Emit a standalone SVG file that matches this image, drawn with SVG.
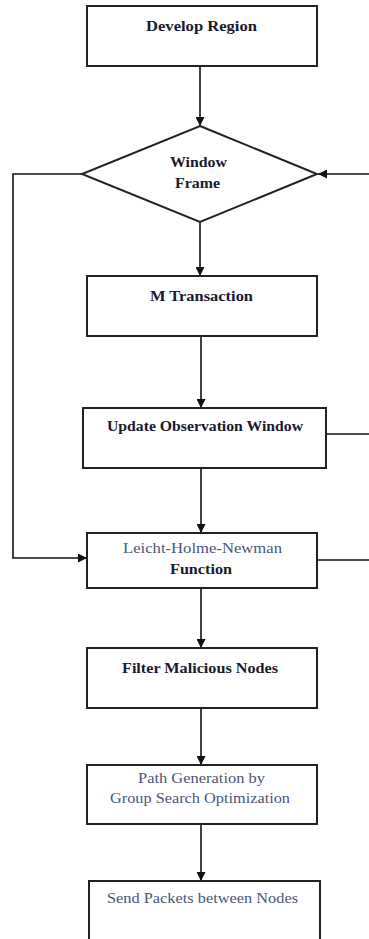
<svg xmlns="http://www.w3.org/2000/svg" width="369" height="939" viewBox="0 0 369 939">
<style>
.box{fill:#fff;stroke:#222;stroke-width:2}
.ln{fill:none;stroke:#111;stroke-width:1.6}
.b{font-family:"Liberation Serif","Times New Roman",serif;font-weight:bold;font-size:14px;fill:#1a1a2e}
.n{font-family:"Liberation Serif","Times New Roman",serif;font-size:14px;fill:#4a5676}
</style>
<defs>
<marker id="ah" markerWidth="9" markerHeight="9" refX="9" refY="4.5" orient="auto" markerUnits="userSpaceOnUse">
<path d="M0,0 L9,4.5 L0,9 Z" fill="#111"/>
</marker>
</defs>
<rect width="369" height="939" fill="#fff"/>
<g id="connectors">
<line class="ln" x1="200" y1="66" x2="200" y2="126" marker-end="url(#ah)"/>
<line class="ln" x1="200" y1="222" x2="200" y2="276" marker-end="url(#ah)"/>
<line class="ln" x1="201" y1="336" x2="201" y2="408" marker-end="url(#ah)"/>
<line class="ln" x1="201" y1="468" x2="201" y2="533" marker-end="url(#ah)"/>
<line class="ln" x1="201" y1="588" x2="201" y2="648" marker-end="url(#ah)"/>
<line class="ln" x1="201" y1="708" x2="201" y2="765" marker-end="url(#ah)"/>
<line class="ln" x1="201" y1="824" x2="201" y2="881" marker-end="url(#ah)"/>
<polyline class="ln" points="82,174 13,174 13,558 87,558" marker-end="url(#ah)"/>
<line class="ln" x1="369" y1="174" x2="318" y2="174" marker-end="url(#ah)"/>
<line class="ln" x1="326" y1="434" x2="369" y2="434"/>
<line class="ln" x1="317" y1="560" x2="369" y2="560"/>
</g>
<g id="develop-region">
<rect class="box" x="87" y="6" width="230" height="60"/>
<text class="b" x="146" y="31" textLength="111" lengthAdjust="spacingAndGlyphs">Develop Region</text>
</g>
<g id="window-frame">
<polygon class="box" points="200,126 317,174 200,222 82,174"/>
<text class="b" x="170" y="167" textLength="57" lengthAdjust="spacingAndGlyphs">Window</text>
<text class="b" x="175" y="188" textLength="45" lengthAdjust="spacingAndGlyphs">Frame</text>
</g>
<g id="m-transaction">
<rect class="box" x="87" y="276" width="230" height="60"/>
<text class="b" x="150" y="301" textLength="103" lengthAdjust="spacingAndGlyphs">M Transaction</text>
</g>
<g id="update-observation-window">
<rect class="box" x="83" y="408" width="243" height="60"/>
<text class="b" x="107" y="431" textLength="196" lengthAdjust="spacingAndGlyphs">Update Observation Window</text>
</g>
<g id="lhn-function">
<rect class="box" x="87" y="533" width="230" height="55"/>
<text class="n" x="123" y="553" textLength="159" lengthAdjust="spacingAndGlyphs">Leicht-Holme-Newman</text>
<text class="b" x="170" y="574" textLength="62" lengthAdjust="spacingAndGlyphs">Function</text>
</g>
<g id="filter-malicious-nodes">
<rect class="box" x="87" y="648" width="230" height="60"/>
<text class="b" x="122" y="673" textLength="156" lengthAdjust="spacingAndGlyphs">Filter Malicious Nodes</text>
</g>
<g id="path-generation">
<rect class="box" x="87" y="765" width="230" height="59"/>
<text class="n" x="138" y="783" textLength="127" lengthAdjust="spacingAndGlyphs">Path Generation by</text>
<text class="n" x="110" y="803" textLength="180" lengthAdjust="spacingAndGlyphs">Group Search Optimization</text>
</g>
<g id="send-packets">
<rect class="box" x="89" y="881" width="231" height="70"/>
<text class="n" x="107" y="903" textLength="191" lengthAdjust="spacingAndGlyphs">Send Packets between Nodes</text>
</g>
</svg>
